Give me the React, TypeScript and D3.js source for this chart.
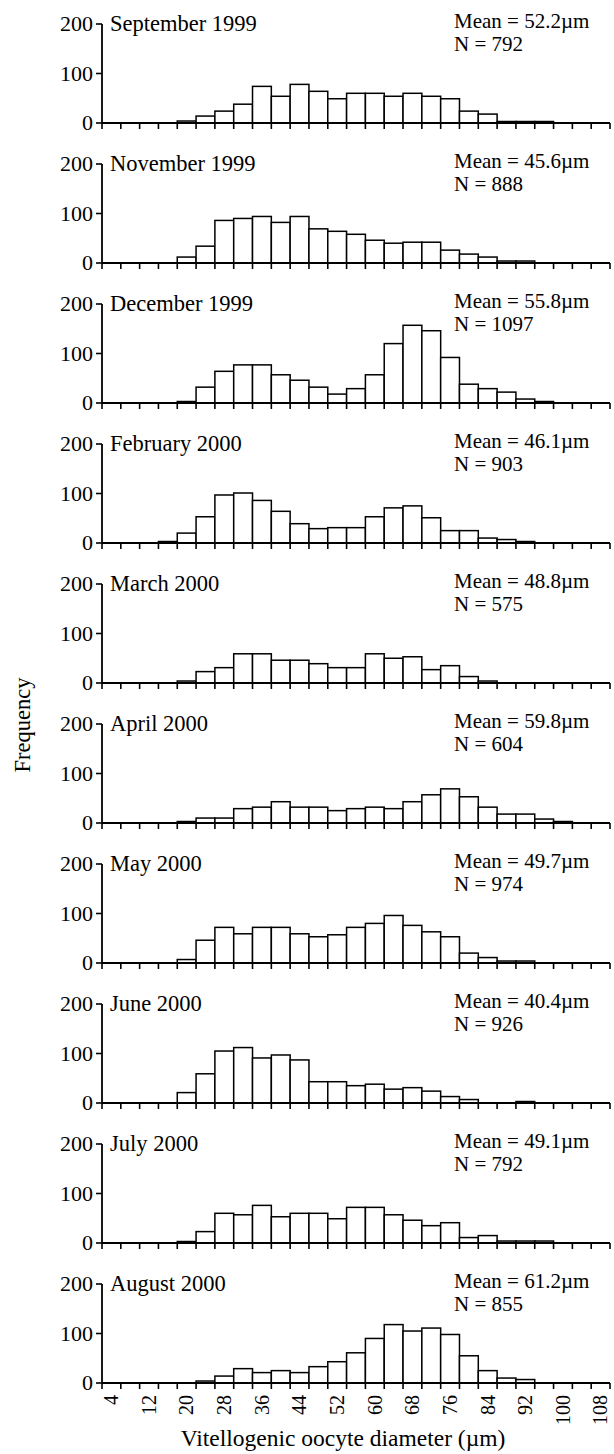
import React, { useEffect, useRef } from 'react';
import * as d3 from 'd3';

const width = 614;
const height = 1454;
const margin = { left: 102, right: 4, top: 24 };
const panelStep = 140;
const panelPlot = 99; // px from 0 to 200 on each panel

// size classes (µm), one bar per class
const diameters = [4, 8, 12, 16, 20, 24, 28, 32, 36, 40, 44, 48, 52, 56, 60, 64, 68, 72, 76, 80, 84, 88, 92, 96, 100, 104, 108];
const tickLabels = [4, 12, 20, 28, 36, 44, 52, 60, 68, 76, 84, 92, 100, 108];
const yTicks = [0, 100, 200];

const months = ['September 1999', 'November 1999', 'December 1999', 'February 2000', 'March 2000', 'April 2000', 'May 2000', 'June 2000', 'July 2000', 'August 2000'];
const means = [52.2, 45.6, 55.8, 46.1, 48.8, 59.8, 49.7, 40.4, 49.1, 61.2];
const counts = [792, 888, 1097, 903, 575, 604, 974, 926, 792, 855];

const sep1999 = [0, 0, 0, 0, 4, 14, 24, 38, 74, 54, 78, 64, 49, 60, 60, 54, 60, 54, 49, 24, 18, 3, 3, 3, 0, 0, 0];
const nov1999 = [0, 0, 0, 0, 12, 34, 86, 90, 94, 82, 94, 69, 64, 58, 46, 40, 42, 42, 26, 18, 12, 4, 4, 0, 0, 0, 0];
const dec1999 = [0, 0, 0, 0, 3, 32, 64, 77, 77, 57, 46, 32, 18, 29, 57, 120, 157, 146, 92, 38, 29, 22, 8, 3, 0, 0, 0];
const feb2000 = [0, 0, 0, 3, 20, 53, 97, 101, 86, 64, 39, 29, 31, 31, 53, 71, 75, 51, 25, 25, 10, 7, 3, 0, 0, 0, 0];
const mar2000 = [0, 0, 0, 0, 4, 23, 31, 59, 59, 46, 46, 39, 31, 31, 59, 50, 53, 27, 35, 13, 4, 0, 0, 0, 0, 0, 0];
const apr2000 = [0, 0, 0, 0, 3, 10, 10, 29, 32, 43, 32, 32, 25, 29, 32, 29, 43, 57, 69, 53, 32, 18, 18, 8, 3, 0, 0];
const may2000 = [0, 0, 0, 0, 7, 46, 72, 59, 72, 72, 59, 53, 57, 72, 80, 96, 76, 63, 53, 20, 11, 4, 4, 0, 0, 0, 0];
const jun2000 = [0, 0, 0, 0, 21, 59, 105, 112, 91, 97, 87, 43, 43, 35, 38, 28, 31, 24, 13, 7, 0, 0, 3, 0, 0, 0, 0];
const jul2000 = [0, 0, 0, 0, 3, 23, 60, 57, 76, 53, 60, 60, 49, 72, 72, 57, 46, 35, 41, 11, 15, 4, 4, 4, 0, 0, 0];
const aug2000 = [0, 0, 0, 0, 0, 4, 14, 29, 21, 25, 21, 33, 43, 61, 90, 118, 105, 111, 98, 55, 25, 10, 7, 0, 0, 0, 0];

const series = [sep1999, nov1999, dec1999, feb2000, mar2000, apr2000, may2000, jun2000, jul2000, aug2000];

const font = '"Liberation Serif", "Times New Roman", serif';

const App = () => {
  const ref = useRef<SVGSVGElement>(null);

  useEffect(() => {
    const svg = d3.select(ref.current);
    svg.selectAll('*').remove();

    const x = d3.scaleBand<number>()
      .domain(diameters)
      .range([margin.left, width - margin.right])
      .paddingInner(0)
      .paddingOuter(0);

    const edges = diameters.map(d => x(d) as number).concat([width - margin.right]);

    series.forEach((values, i) => {
      const y0 = margin.top + panelPlot + i * panelStep;
      const y = d3.scaleLinear().domain([0, 200]).range([y0, y0 - panelPlot]);
      const g = svg.append('g');

      // bars
      g.selectAll('rect.bar')
        .data(values.map((v, k) => ({ v, d: diameters[k] })).filter(o => o.v > 0))
        .enter()
        .append('rect')
        .attr('class', 'bar')
        .attr('x', o => x(o.d) as number)
        .attr('y', o => y(o.v))
        .attr('width', x.bandwidth())
        .attr('height', o => y(0) - y(o.v))
        .attr('fill', 'white')
        .attr('stroke', 'black')
        .attr('stroke-width', 1.5);

      // y axis
      g.append('line')
        .attr('x1', margin.left).attr('x2', margin.left)
        .attr('y1', y(200)).attr('y2', y(0))
        .attr('stroke', 'black').attr('stroke-width', 1.8);
      g.selectAll('line.ytick')
        .data(yTicks)
        .enter()
        .append('line')
        .attr('class', 'ytick')
        .attr('x1', margin.left - 6).attr('x2', margin.left)
        .attr('y1', d => y(d)).attr('y2', d => y(d))
        .attr('stroke', 'black').attr('stroke-width', 1.6);
      g.selectAll('text.ylab')
        .data(yTicks)
        .enter()
        .append('text')
        .attr('class', 'ylab')
        .attr('x', margin.left - 9)
        .attr('y', d => y(d))
        .attr('dy', '0.34em')
        .attr('text-anchor', 'end')
        .style('font-family', font)
        .style('font-size', '22px')
        .text(d => d);

      // x axis
      g.append('line')
        .attr('x1', margin.left).attr('x2', width - margin.right)
        .attr('y1', y(0)).attr('y2', y(0))
        .attr('stroke', 'black').attr('stroke-width', 1.8);
      g.selectAll('line.xtick')
        .data(edges)
        .enter()
        .append('line')
        .attr('class', 'xtick')
        .attr('x1', d => d).attr('x2', d => d)
        .attr('y1', y(0)).attr('y2', y(0) + 6)
        .attr('stroke', 'black').attr('stroke-width', 1.6);

      // labels
      g.append('text')
        .attr('x', margin.left + 8)
        .attr('y', y0 - 92)
        .style('font-family', font)
        .style('font-size', '22.5px')
        .text(months[i]);
      g.append('text')
        .attr('x', 454)
        .attr('y', y0 - 95)
        .style('font-family', font)
        .style('font-size', '21px')
        .text(`Mean = ${means[i].toFixed(1)}\u00b5m`);
      g.append('text')
        .attr('x', 454)
        .attr('y', y0 - 72)
        .style('font-family', font)
        .style('font-size', '21px')
        .text(`N = ${counts[i]}`);

      if (i === series.length - 1) {
        g.selectAll('text.xlab')
          .data(tickLabels)
          .enter()
          .append('text')
          .attr('class', 'xlab')
          .attr('transform', d => `translate(${(x(d) as number) + x.bandwidth() / 2},${y0 + 12}) rotate(-90)`)
          .attr('dy', '0.34em')
          .attr('text-anchor', 'end')
          .style('font-family', font)
          .style('font-size', '20px')
          .text(d => d);
      }
    });

    svg.append('text')
      .attr('x', 343)
      .attr('y', 1446)
      .attr('text-anchor', 'middle')
      .style('font-family', font)
      .style('font-size', '23.5px')
      .text('Vitellogenic oocyte diameter (\u00b5m)');

    svg.append('text')
      .attr('transform', `translate(22,725) rotate(-90)`)
      .attr('dy', '0.34em')
      .attr('text-anchor', 'middle')
      .style('font-family', font)
      .style('font-size', '22.5px')
      .text('Frequency');
  }, []);

  return (
    <svg
      ref={ref}
      width={width}
      height={height}
      style={{ position: 'absolute', left: 0, top: 0, background: 'white' }}
    />
  );
};

export default App;
